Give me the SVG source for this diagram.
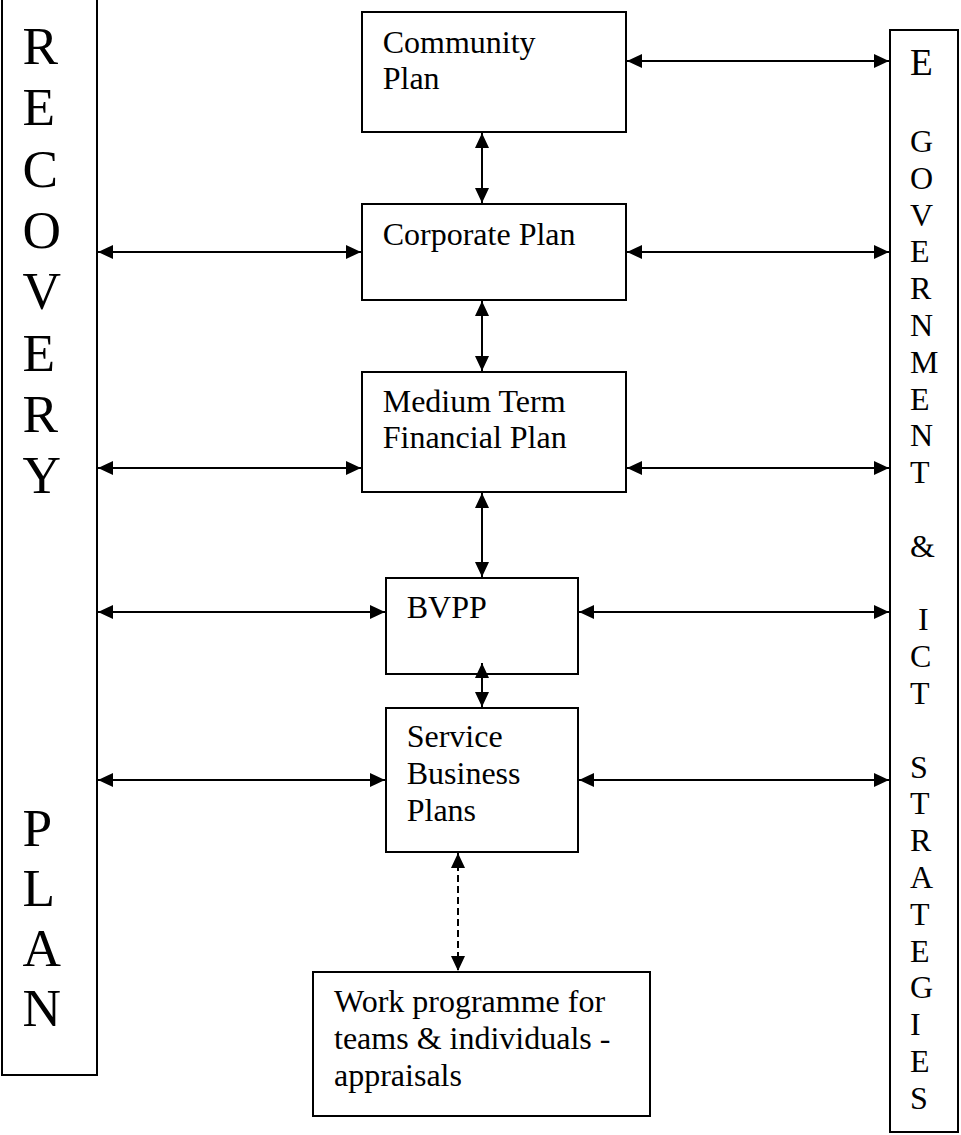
<svg xmlns="http://www.w3.org/2000/svg" width="961" height="1135" viewBox="0 0 961 1135">
  <style>
    .box { fill: #fff; stroke: #000; stroke-width: 2; }
    .t { font-family: "Liberation Serif", "Times New Roman", serif; font-size: 32px; fill: #000; }
    .big { font-size: 53.3px; }
    .mid { font-size: 37.3px; }
    .conn { stroke: #000; stroke-width: 2; fill: none; marker-start: url(#ah); marker-end: url(#ah); }
    .dash { stroke-dasharray: 7 4; }
  </style>
  <defs>
    <marker id="ah" markerUnits="userSpaceOnUse" markerWidth="15" markerHeight="14" refX="15" refY="7" orient="auto-start-reverse">
      <path d="M0,0 L15,7 L0,14 z" fill="#000"/>
    </marker>
  </defs>
  <rect width="961" height="1135" fill="#fff"/>

  <!-- side column: recovery plan -->
  <g id="node-recovery">
    <rect class="box" x="2" y="-5" width="95" height="1080"/>
    <text class="t big" x="22.5">
      <tspan x="22.5" y="64">R</tspan>
      <tspan x="22.5" y="125.3">E</tspan>
      <tspan x="22.5" y="186.6">C</tspan>
      <tspan x="22.5" y="247.9">O</tspan>
      <tspan x="22.5" y="309.2">V</tspan>
      <tspan x="22.5" y="370.5">E</tspan>
      <tspan x="22.5" y="431.8">R</tspan>
      <tspan x="22.5" y="493.1">Y</tspan>
      <tspan x="22.5" y="846">P</tspan>
      <tspan x="22.5" y="906">L</tspan>
      <tspan x="22.5" y="966">A</tspan>
      <tspan x="22.5" y="1026">N</tspan>
    </text>
  </g>

  <!-- side column: e-government & ICT strategies -->
  <g id="node-egov">
    <rect class="box" x="890" y="30" width="68" height="1102"/>
    <text class="t mid" x="910" y="75">E</text>
    <text class="t" x="910">
      <tspan x="910" y="152">G</tspan>
      <tspan x="910" y="188.8">O</tspan>
      <tspan x="910" y="225.6">V</tspan>
      <tspan x="910" y="262.4">E</tspan>
      <tspan x="910" y="299.2">R</tspan>
      <tspan x="910" y="336">N</tspan>
      <tspan x="910" y="372.8">M</tspan>
      <tspan x="910" y="409.6">E</tspan>
      <tspan x="910" y="446.4">N</tspan>
      <tspan x="910" y="483.2">T</tspan>
      <tspan x="910" y="556.8">&amp;</tspan>
      <tspan x="918" y="630.4">I</tspan>
      <tspan x="910" y="667.2">C</tspan>
      <tspan x="910" y="704">T</tspan>
      <tspan x="910" y="777.6">S</tspan>
      <tspan x="910" y="814.4">T</tspan>
      <tspan x="910" y="851.2">R</tspan>
      <tspan x="910" y="888">A</tspan>
      <tspan x="910" y="924.8">T</tspan>
      <tspan x="910" y="961.6">E</tspan>
      <tspan x="910" y="998.4">G</tspan>
      <tspan x="910" y="1035.2">I</tspan>
      <tspan x="910" y="1072">E</tspan>
      <tspan x="910" y="1108.8">S</tspan>
    </text>
  </g>

  <g id="node-community">
    <rect class="box" x="362" y="12" width="264" height="120"/>
    <text class="t"><tspan x="382.7" y="53">Community</tspan><tspan x="382.7" y="89">Plan</tspan></text>
  </g>

  <g id="node-corporate">
    <rect class="box" x="362" y="204" width="264" height="96"/>
    <text class="t" x="382.7" y="245">Corporate Plan</text>
  </g>

  <g id="node-mtfp">
    <rect class="box" x="362" y="372" width="264" height="120"/>
    <text class="t"><tspan x="382.7" y="412">Medium Term</tspan><tspan x="382.7" y="448">Financial Plan</tspan></text>
  </g>

  <g id="node-bvpp">
    <rect class="box" x="386" y="578" width="192" height="96"/>
    <text class="t" x="406.7" y="618">BVPP</text>
  </g>

  <g id="node-service">
    <rect class="box" x="386" y="708" width="192" height="144"/>
    <text class="t"><tspan x="406.7" y="747">Service</tspan><tspan x="406.7" y="784">Business</tspan><tspan x="406.7" y="821">Plans</tspan></text>
  </g>

  <g id="node-work">
    <rect class="box" x="313" y="972" width="337" height="144"/>
    <text class="t"><tspan x="334" y="1012">Work programme for</tspan><tspan x="334" y="1048.8">teams &amp; individuals -</tspan><tspan x="334" y="1085.6">appraisals</tspan></text>
  </g>

  <g id="connectors">
    <!-- vertical chain -->
    <line class="conn" x1="482" y1="133" x2="482" y2="203"/>
    <line class="conn" x1="482" y1="301" x2="482" y2="371"/>
    <line class="conn" x1="482" y1="493" x2="482" y2="577"/>
    <line class="conn" x1="482" y1="663" x2="482" y2="707"/>
    <line class="conn dash" x1="458" y1="853" x2="458" y2="971"/>
    <!-- links to the recovery plan -->
    <line class="conn" x1="98" y1="252" x2="361" y2="252"/>
    <line class="conn" x1="98" y1="468" x2="361" y2="468"/>
    <line class="conn" x1="98" y1="612" x2="385" y2="612"/>
    <line class="conn" x1="98" y1="780" x2="385" y2="780"/>
    <!-- links to the e-government strategy -->
    <line class="conn" x1="627" y1="61" x2="889" y2="61"/>
    <line class="conn" x1="627" y1="252" x2="889" y2="252"/>
    <line class="conn" x1="627" y1="468" x2="889" y2="468"/>
    <line class="conn" x1="579" y1="612" x2="889" y2="612"/>
    <line class="conn" x1="579" y1="780" x2="889" y2="780"/>
  </g>
</svg>
